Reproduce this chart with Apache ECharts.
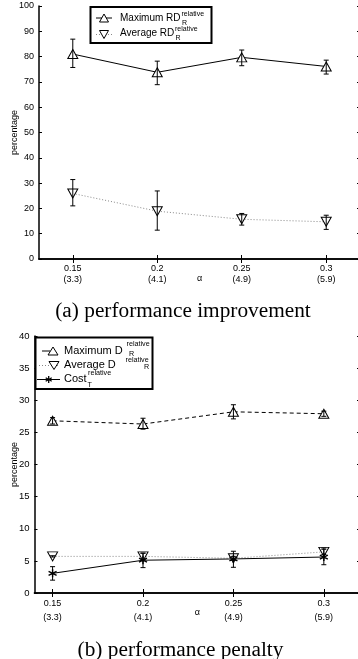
<!DOCTYPE html>
<html>
<head>
<meta charset="utf-8">
<script src="https://cdn.jsdelivr.net/npm/echarts@6/dist/echarts.min.js"></script>
<style>
html,body{margin:0;padding:0;background:#fff;}
#main{width:358px;height:659px;}
</style>
</head>
<body>
<div id="main"></div>
<script>
// ---- data ----
const alphaValues = [0.15, 0.2, 0.25, 0.3];
const alphaLabels = ['0.15', '0.2', '0.25', '0.3'];
const paramLabels = ['(3.3)', '(4.1)', '(4.9)', '(5.9)'];

// (a) performance improvement
const maxRD     = [81.0, 73.8, 79.7, 76.1];
const maxRDLow  = [75.7, 68.9, 76.4, 73.1];
const maxRDHigh = [86.9, 78.2, 82.6, 78.6];
const avgRD     = [25.9, 18.9, 15.7, 14.7];
const avgRDLow  = [21.0, 11.4, 13.4, 11.7];
const avgRDHigh = [31.4, 26.9, 18.0, 17.3];

// (b) performance penalty
const maxD     = [26.8, 26.3, 28.2, 27.9];
const maxDLow  = [26.3, 25.5, 27.1, 27.5];
const maxDHigh = [27.3, 27.2, 29.3, 28.3];
const avgD     = [5.7, 5.7, 5.4, 6.4];
const avgDLow  = [5.6, 5.2, 5.1, 6.0];
const avgDHigh = [5.8, 6.2, 5.7, 6.8];
const cost     = [3.06, 5.1, 5.3, 5.6];
const costLow  = [2.0, 3.95, 4.0, 4.4];
const costHigh = [4.1, 6.2, 6.5, 7.0];

// ---- helpers ----
const SANS = 'Liberation Sans, Arial, Helvetica, sans-serif';
const SERIF = 'Liberation Serif, Times New Roman, serif';
const pts = v => alphaValues.map((a, i) => [a, v[i]]);
const errPts = (lo, hi) => alphaValues.map((a, i) => [a, lo[i], hi[i]]);
const labelFor = v => {
  const i = alphaValues.findIndex(a => Math.abs(a - v) < 1e-6);
  return i < 0 ? '' : alphaLabels[i] + '\n' + paramLabels[i];
};
const asterisk = 'path://M5,0 L5,10 M0.7,2.5 L9.3,7.5 M0.7,7.5 L9.3,2.5';

function errorBar(xi, yi, data) {
  return {
    type: 'custom', xAxisIndex: xi, yAxisIndex: yi, z: 5, silent: true,
    data: data,
    renderItem: function (params, api) {
      const x = api.value(0);
      const lo = api.coord([x, api.value(1)]);
      const hi = api.coord([x, api.value(2)]);
      const w = 2.5;
      const st = {stroke: '#000', lineWidth: 1};
      return {type: 'group', children: [
        {type: 'line', shape: {x1: lo[0], y1: lo[1], x2: hi[0], y2: hi[1]}, style: st},
        {type: 'line', shape: {x1: lo[0]-w, y1: lo[1], x2: lo[0]+w, y2: lo[1]}, style: st},
        {type: 'line', shape: {x1: hi[0]-w, y1: hi[1], x2: hi[0]+w, y2: hi[1]}, style: st}
      ]};
    }
  };
}

function xAxes(gi, min, max, lh, gap) {
  return [
    {type: 'value', gridIndex: gi, min: min, max: max, position: 'bottom',
     name: 'α', nameLocation: 'middle', nameGap: gap, nameMoveOverlap: false,
     nameTextStyle: {fontFamily: SANS, fontSize: 9, color: '#000'},
     axisLine: {lineStyle: {color: '#000', width: 1.5}},
     axisTick: {inside: true, length: 4, lineStyle: {color: '#000'}, customValues: alphaValues},
     axisLabel: {customValues: alphaValues, formatter: labelFor, color: '#000',
       fontFamily: SANS, fontSize: 9, lineHeight: lh, margin: 4},
     splitLine: {show: false}},
    {type: 'value', gridIndex: gi, min: min, max: max, position: 'top',
     axisLine: {lineStyle: {color: '#000', width: 1.5}},
     axisTick: {inside: true, length: 4, lineStyle: {color: '#000'}, customValues: alphaValues},
     axisLabel: {show: false}, splitLine: {show: false}}
  ];
}
function yAxes(gi, max, interval, gap, fs) {
  return [
    {type: 'value', gridIndex: gi, min: 0, max: max, interval: interval, position: 'left',
     name: 'percentage', nameLocation: 'middle', nameGap: gap, nameMoveOverlap: false,
     nameTextStyle: {fontFamily: SANS, fontSize: 9, color: '#000'},
     axisLine: {show: true, lineStyle: {color: '#000', width: 1.5}},
     axisTick: {show: true, inside: true, length: 3, lineStyle: {color: '#000'}},
     axisLabel: {color: '#000', fontFamily: SANS, fontSize: fs, margin: 5, hideOverlap: false},
     splitLine: {show: false}},
    {type: 'value', gridIndex: gi, min: 0, max: max, interval: interval, position: 'right',
     axisLine: {show: true, lineStyle: {color: '#000', width: 1.5}},
     axisTick: {show: true, inside: true, length: 3, lineStyle: {color: '#000'}},
     axisLabel: {show: false}, splitLine: {show: false}}
  ];
}

function lineSeries(xi, yi, data, sym, rot, size, lineType, color, width) {
  return {
    type: 'line', xAxisIndex: xi, yAxisIndex: yi, data: data, z: 3,
    symbol: sym, symbolRotate: rot, symbolSize: size, showSymbol: true,
    lineStyle: {color: color, width: width, type: lineType},
    itemStyle: {color: '#fff', borderColor: '#000', borderWidth: 1},
    animation: false, silent: true
  };
}

// ---- legend glyphs (graphic) ----
function tri(cx, cy, down, w, h) {
  const hw = w / 2, hh = h / 2;
  const p = down ? [[cx-hw, cy-hh], [cx+hw, cy-hh], [cx, cy+hh]]
                 : [[cx-hw, cy+hh], [cx+hw, cy+hh], [cx, cy-hh]];
  return {type: 'polygon', shape: {points: p}, style: {fill: '#fff', stroke: '#000', lineWidth: 1}, z: 20};
}
function seg(x1, x2, y, dash, color) {
  return {type: 'line', shape: {x1: x1, y1: y, x2: x2, y2: y},
    style: {stroke: color || '#000', lineWidth: 1, lineDash: dash || null}, z: 19};
}
function txt(t, x, y, fs) {
  return {type: 'text', z: 21,
    style: {text: t, x: x, y: y, font: fs + 'px ' + SANS, fill: '#000', align: 'left', verticalAlign: 'middle'}};
}
function star(cx, cy, r) {
  const out = [];
  [90, 30, -30].forEach(a => {
    const rad = a * Math.PI / 180;
    out.push({type: 'line', shape: {x1: cx - r*Math.cos(rad), y1: cy - r*Math.sin(rad), x2: cx + r*Math.cos(rad), y2: cy + r*Math.sin(rad)},
      style: {stroke: '#000', lineWidth: 1.3}, z: 20});
  });
  return out;
}

const graphics = [
  // top legend
  {type: 'rect', shape: {x: 90.5, y: 7, width: 121, height: 36}, style: {fill: '#fff', stroke: '#000', lineWidth: 2}, z: 18},
  seg(96, 112, 18),
  tri(104, 18, false, 9, 8),
  txt('Maximum RD', 120, 18.5, 10),
  txt('relative', 181.5, 14.5, 7),
  txt('R', 182, 23.5, 7),
  seg(96, 112, 34.5, [1, 2], '#888'),
  tri(104, 34.5, true, 9, 8),
  txt('Average RD', 120, 33.5, 10),
  txt('relative', 175, 29, 7),
  txt('R', 175.5, 38, 7),
  // bottom legend
  {type: 'rect', shape: {x: 35.5, y: 337.5, width: 117, height: 51.5}, style: {fill: '#fff', stroke: '#000', lineWidth: 2}, z: 18},
  seg(42, 50, 351),
  tri(53, 351, false, 10, 8),
  txt('Maximum D', 64, 351, 11),
  txt('relative', 126.5, 344.5, 7.2),
  txt('R', 129, 354.5, 7.2),
  seg(39, 60, 365.5, [1, 2], '#888'),
  tri(54, 365.5, true, 10, 8),
  txt('Average D', 64, 364.5, 11),
  txt('relative', 125.5, 360, 7.2),
  txt('R', 144, 367.5, 7.2),
  seg(37, 60, 379.5),
  ...star(48.7, 379.5, 3.5),
  txt('Cost', 64, 379, 11),
  txt('relative', 88, 373.5, 7.2),
  txt('T', 87.5, 385.5, 7.2),
  // captions
  {type: 'text', z: 21, style: {text: '(a) performance improvement', x: 183, y: 311,
    font: '21.3px ' + SERIF, fill: '#000', align: 'center', verticalAlign: 'middle'}},
  {type: 'text', z: 21, style: {text: '(b) performance penalty', x: 180.5, y: 650,
    font: '21.3px ' + SERIF, fill: '#000', align: 'center', verticalAlign: 'middle'}}
];

const chart = echarts.init(document.getElementById('main'));
chart.setOption({
  animation: false,
  backgroundColor: '#fff',
  grid: [
    {left: 39, top: 6, width: 321, height: 253, outerBoundsMode: 'none', containLabel: false},
    {left: 34.5, top: 336, width: 325.5, height: 257, outerBoundsMode: 'none', containLabel: false}
  ],
  xAxis: [...xAxes(0, 0.13, 0.32, 11, 15), ...xAxes(1, 0.14, 0.32, 13.5, 15.5)],
  yAxis: [...yAxes(0, 100, 10, 19.5, 9), ...yAxes(1, 40, 5, 15.5, 9.5)],
  series: [
    lineSeries(0, 0, pts(maxRD), 'triangle', 0, [10, 9], 'solid', '#000', 1),
    errorBar(0, 0, errPts(maxRDLow, maxRDHigh)),
    lineSeries(0, 0, pts(avgRD), 'triangle', 180, [10, 9], [1, 2], '#888', 1),
    errorBar(0, 0, errPts(avgRDLow, avgRDHigh)),

    lineSeries(2, 2, pts(maxD), 'triangle', 0, [10, 9], [4, 3], '#000', 1),
    errorBar(2, 2, errPts(maxDLow, maxDHigh)),
    lineSeries(2, 2, pts(avgD), 'triangle', 180, [10, 9], [1, 2], '#888', 1),
    errorBar(2, 2, errPts(avgDLow, avgDHigh)),
    Object.assign(lineSeries(2, 2, pts(cost), asterisk, 0, 8, 'solid', '#000', 1),
      {itemStyle: {color: '#000', borderColor: '#000', borderWidth: 1.4}}),
    errorBar(2, 2, errPts(costLow, costHigh))
  ],
  graphic: graphics
});
</script>
</body>
</html>
